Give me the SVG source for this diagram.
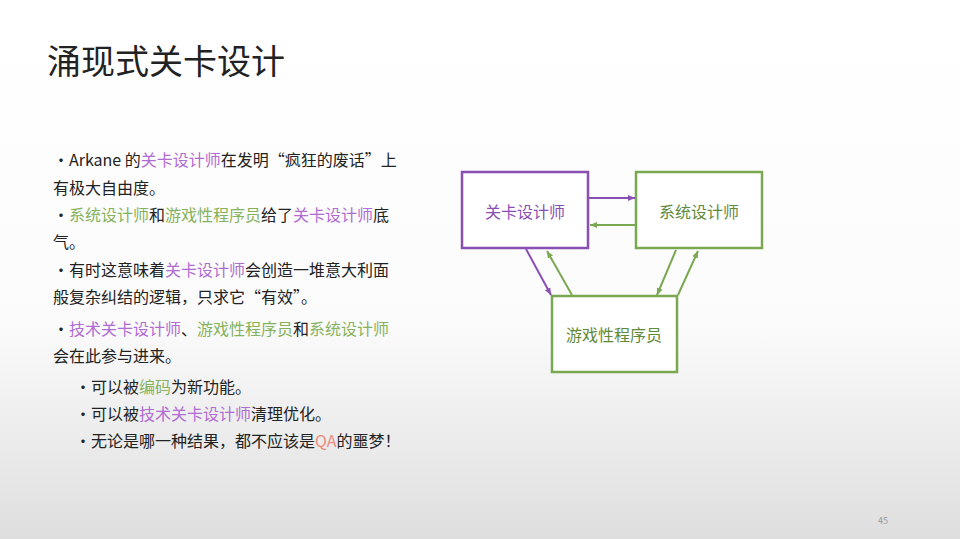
<svg xmlns="http://www.w3.org/2000/svg" width="960" height="539" viewBox="0 0 960 539">
<defs>
<linearGradient id="bg" x1="0" y1="0" x2="0" y2="1">
<stop offset="0" stop-color="#ffffff"/><stop offset="0.6" stop-color="#fbfbfb"/><stop offset="1" stop-color="#dedede"/>
</linearGradient>
<marker id="ap" markerWidth="8" markerHeight="8" refX="7" refY="4" orient="auto" markerUnits="userSpaceOnUse"><path d="M0,1 L7,4 L0,7 z" fill="#8a4fb5"/></marker>
<marker id="ag" markerWidth="8" markerHeight="8" refX="7" refY="4" orient="auto" markerUnits="userSpaceOnUse"><path d="M0,1 L7,4 L0,7 z" fill="#7aa851"/></marker>
<style>
text{font-family:"Noto Sans CJK SC","Liberation Sans",sans-serif;fill:#222}
.b{font-size:16px}
.p{fill:#b06cd2}.g{fill:#86b25c}.q{fill:#ef8a7a}
.box{fill:#fff;stroke-width:2.5}
.pb{stroke:#8a4fb5}.gb{stroke:#7aa851}
.lp{stroke:#8a4fb5;stroke-width:2;marker-end:url(#ap)}
.lg{stroke:#7aa851;stroke-width:2;marker-end:url(#ag)}
.n{font-size:16px;text-anchor:middle}
</style>
</defs>
<rect width="960" height="539" fill="url(#bg)"/>
<text x="47" y="74" font-size="34">涌现式关卡设计</text>
<g class="b">
<text x="53" y="166">·Arkane 的<tspan class="p">关卡设计师</tspan>在发明“疯狂的废话”上</text>
<text x="53" y="194">有极大自由度。</text>
<text x="53" y="221">·<tspan class="g">系统设计师</tspan>和<tspan class="g">游戏性程序员</tspan>给了<tspan class="p">关卡设计师</tspan>底</text>
<text x="53" y="248">气。</text>
<text x="53" y="276">·有时这意味着<tspan class="p">关卡设计师</tspan>会创造一堆意大利面</text>
<text x="53" y="303">般复杂纠结的逻辑，只求它“有效”。</text>
<text x="53" y="335">·<tspan class="p">技术关卡设计师</tspan>、<tspan class="g">游戏性程序员</tspan>和<tspan class="g">系统设计师</tspan></text>
<text x="53" y="362">会在此参与进来。</text>
<text x="75" y="393">·可以被<tspan class="g">编码</tspan>为新功能。</text>
<text x="75" y="420">·可以被<tspan class="p">技术关卡设计师</tspan>清理优化。</text>
<text x="75" y="447">·无论是哪一种结果，都不应该是<tspan class="q">QA</tspan>的噩梦！</text>
</g>
<g id="n1"><rect class="box pb" x="462" y="172" width="126" height="76"/><text class="n" x="525" y="218" style="fill:#8a4fb5">关卡设计师</text></g>
<g id="n2"><rect class="box gb" x="636" y="172" width="126" height="76"/><text class="n" x="699" y="218" style="fill:#5f8a3a">系统设计师</text></g>
<g id="n3"><rect class="box gb" x="552" y="296" width="125" height="76"/><text class="n" x="614" y="341" style="fill:#5f8a3a">游戏性程序员</text></g>
<g id="edges" fill="none">
<line class="lp" x1="589" y1="198" x2="635" y2="198"/>
<line class="lg" x1="635" y1="225" x2="590" y2="225"/>
<line class="lp" x1="526" y1="249" x2="551" y2="295"/>
<line class="lg" x1="572" y1="295" x2="547" y2="251"/>
<line class="lg" x1="676" y1="250" x2="657" y2="295"/>
<line class="lg" x1="678" y1="295" x2="698" y2="251"/>
</g>
<text x="878" y="524" font-size="9" style="fill:#999">45</text>
</svg>
